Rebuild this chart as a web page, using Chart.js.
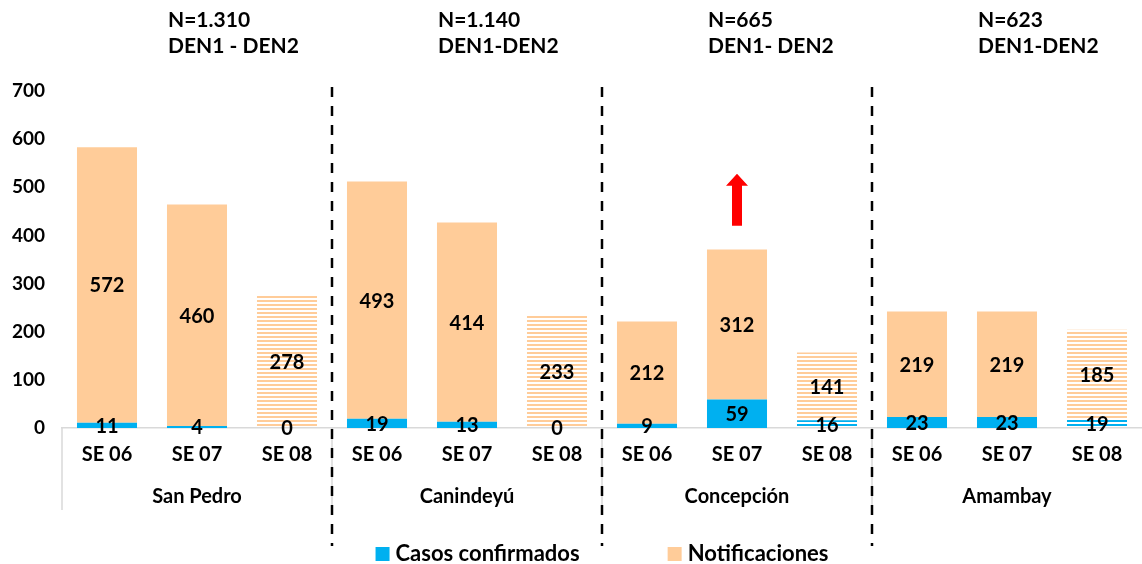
<!DOCTYPE html>
<html>
<head>
<meta charset="utf-8">
<script src="https://cdn.jsdelivr.net/npm/chart.js@4"></script>
<style>
  html, body { margin:0; padding:0; background:#fff; }
  #wrap { width:1142px; height:564px; position:relative; }
</style>
</head>
<body>
<div id="wrap"><canvas id="chart"></canvas></div>
<script>
// ── Datos ────────────────────────────────────────────────
const groups  = ['San Pedro', 'Canindeyú', 'Concepción', 'Amambay'];
const weeks   = ['SE 06', 'SE 07', 'SE 08'];
const confirmados    = [11, 4, 0,   19, 13, 0,   9, 59, 16,   23, 23, 19];
const notificaciones = [572, 460, 278, 493, 414, 233, 212, 312, 141, 219, 219, 185];
const groupN   = ['N=1.310', 'N=1.140', 'N=665', 'N=623'];
const groupDen = ['DEN1 - DEN2', 'DEN1-DEN2', 'DEN1- DEN2', 'DEN1-DEN2'];
const yTicks = [0, 100, 200, 300, 400, 500, 600, 700];
const arrowBar = 7;            // Concepción SE 07
const arrowFrom = 420, arrowTo = 528;

const labels = [];
groups.forEach(() => weeks.forEach(w => labels.push(w)));

const FONT = 'Lato, "Liberation Sans", sans-serif';
const BLUE = '#00b0f0', PEACH = '#ffcc99';

function stripes(color) {
  const c = document.createElement('canvas');
  c.width = 4; c.height = 4;
  const g = c.getContext('2d');
  g.fillStyle = color;
  g.fillRect(0, 0, 4, 2);
  return g.createPattern(c, 'repeat');
}
// SE 08 va rayado
const colorsFor = col => labels.map(l => l === 'SE 08' ? stripes(col) : col);

const decor = {
  id: 'decor',
  afterDatasetsDraw(chart) {
    const { ctx, scales: { x, y } } = chart;
    ctx.save();
    ctx.fillStyle = '#000';
    ctx.textAlign = 'center';
    ctx.textBaseline = 'middle';
    ctx.font = `bold 20px ${FONT}`;
    // etiquetas de valor
    chart.data.datasets.forEach((ds, di) => {
      chart.getDatasetMeta(di).data.forEach((bar, i) => {
        ctx.fillText(String(ds.data[i]), bar.x, (bar.y + bar.base) / 2 + 1);
      });
    });
    // flecha roja
    const ax = x.getPixelForValue(arrowBar);
    const y0 = y.getPixelForValue(arrowFrom), y1 = y.getPixelForValue(arrowTo);
    ctx.fillStyle = '#ff0000';
    ctx.beginPath();
    ctx.moveTo(ax - 5, y0); ctx.lineTo(ax + 5, y0);
    ctx.lineTo(ax + 5, y1 + 12); ctx.lineTo(ax + 11, y1 + 12);
    ctx.lineTo(ax, y1); ctx.lineTo(ax - 11, y1 + 12);
    ctx.lineTo(ax - 5, y1 + 12); ctx.closePath();
    ctx.fill();
    ctx.restore();
  },
  afterDraw(chart) {
    const { ctx, scales: { x }, chartArea } = chart;
    const step = x.width / labels.length;
    ctx.save();
    ctx.fillStyle = '#000';
    ctx.textBaseline = 'middle';
    groups.forEach((g, gi) => {
      const first = x.getPixelForValue(gi * 3), last = x.getPixelForValue(gi * 3 + 2);
      const left = first - step / 2;
      // nombre de grupo
      ctx.font = `bold 20px ${FONT}`;
      ctx.textAlign = 'center';
      ctx.fillText(g, (first + last) / 2, 497);
      // N y serotipos
      ctx.font = `bold 21px ${FONT}`;
      ctx.textAlign = 'left';
      const tx = x.getPixelForValue(gi * 3 + 1) - 29;
      ctx.fillText(groupN[gi], tx, 20);
      ctx.fillText(groupDen[gi], tx, 46);
      // separador gris de categoría
      ctx.strokeStyle = '#d9d9d9';
      ctx.lineWidth = 1.5;
      ctx.beginPath();
      ctx.moveTo(left, chartArea.bottom); ctx.lineTo(left, 510);
      ctx.stroke();
      // separador discontinuo
      if (gi > 0) {
        ctx.strokeStyle = '#000';
        ctx.lineWidth = 2.5;
        ctx.setLineDash([10, 9]);
        ctx.beginPath();
        ctx.moveTo(left, 87); ctx.lineTo(left, 546);
        ctx.stroke();
        ctx.setLineDash([]);
      }
    });

    // leyenda
    const items = [
      { text: 'Casos confirmados', color: BLUE },
      { text: 'Notificaciones', color: PEACH },
    ];
    ctx.font = `bold 22px ${FONT}`;
    ctx.textAlign = 'left';
    const box = 14, gap = 6, between = 88;
    const widths = items.map(it => box + gap + ctx.measureText(it.text).width);
    const total = widths.reduce((a, b) => a + b, 0) + between;
    let lx = (chartArea.left + chartArea.right) / 2 - total / 2;
    const ly = 554;
    items.forEach((it, i) => {
      ctx.fillStyle = it.color;
      ctx.fillRect(lx, ly - box / 2, box, box);
      ctx.fillStyle = '#000';
      ctx.fillText(it.text, lx + box + gap, ly);
      lx += widths[i] + between;
    });
    ctx.restore();
  }
};

new Chart(document.getElementById('chart'), {
  type: 'bar',
  data: {
    labels,
    datasets: [
      { label: 'Casos confirmados', data: confirmados, backgroundColor: colorsFor(BLUE) },
      { label: 'Notificaciones', data: notificaciones, backgroundColor: colorsFor(PEACH) },
    ],
  },
  options: {
    responsive: true, maintainAspectRatio: false, animation: false,
    layout: { padding: { top: 91, right: 0, left: 0, bottom: 40 } },
    datasets: { bar: { categoryPercentage: 1, barPercentage: 0.667 } },
    plugins: {
      tooltip: { enabled: false },
      legend: { display: false },
    },
    scales: {
      x: {
        stacked: true,
        grid: { display: false, drawTicks: false },
        border: { display: true, color: '#d9d9d9', width: 1.5 },
        ticks: { color: '#000', font: { family: FONT, size: 20, weight: 'bold' }, padding: 15, maxRotation: 0 },
        afterFit: s => { s.height = 96; },
      },
      y: {
        stacked: true, min: 0, max: 700,
        grid: { display: false, drawTicks: false },
        border: { display: false },
        afterBuildTicks: s => { s.ticks = yTicks.map(v => ({ value: v })); },
        ticks: { color: '#000', font: { family: FONT, size: 19, weight: 'bold' }, padding: 17 },
        afterFit: s => { s.width = 62; },
      },
    },
  },
  plugins: [decor],
});
</script>
</body>
</html>
